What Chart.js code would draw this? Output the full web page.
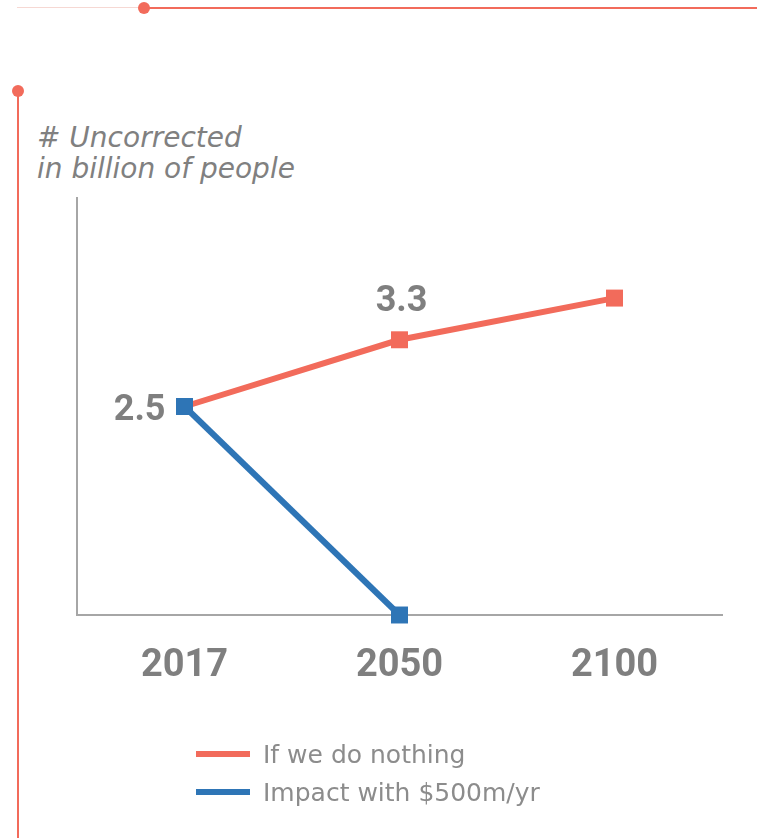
<!DOCTYPE html>
<html>
<head>
<meta charset="utf-8">
<script src="https://cdn.jsdelivr.net/npm/chart.js@4.4.1/dist/chart.umd.min.js"></script>
<style>
  html, body { margin: 0; padding: 0; background: #fff; }
  body { width: 757px; height: 838px; position: relative; overflow: hidden; }
  #wrap { position: absolute; left: 0; top: 0; width: 757px; height: 838px; }
  .deco { position: absolute; }
  .title {
    position: absolute; left: 37px; top: 122px;
    font-family: "DejaVu Sans", sans-serif; font-style: italic;
    font-size: 28px; line-height: 31px; color: #808080;
  }
  .legend { position: absolute; left: 196px; top: 735px; font-family: "DejaVu Sans", sans-serif; }
  .legend .item { display: flex; align-items: center; height: 38px; font-size: 25px; color: #8c8c8c; }
  .legend .swatch { width: 54px; height: 6px; margin-right: 13px; }
</style>
</head>
<body>
<div class="deco" style="left:17px;top:7px;width:128px;height:1px;background:#f6d8d3"></div>
<div class="deco" style="left:145px;top:7px;width:612px;height:2px;background:#f26b5b"></div>
<div class="deco" style="left:138px;top:2px;width:12px;height:12px;border-radius:50%;background:#f26b5b"></div>
<div class="deco" style="left:17px;top:91px;width:2px;height:747px;background:#f26b5b"></div>
<div class="deco" style="left:12px;top:85px;width:12px;height:12px;border-radius:50%;background:#f26b5b"></div>

<div class="title"># Uncorrected<br>in billion of people</div>

<div id="wrap"><canvas id="chart"></canvas></div>
<div class="legend" id="legend"></div>

<script>
'use strict';

// データ
const years = ['2017', '2050', '2100'];
const doNothing = [2.5, 3.3, 3.8];
const withFunding = [2.5, 0, null];
const seriesNames = ['If we do nothing', 'Impact with $500m/yr'];
const yRange = [0, 5];

// 値ラベルを付ける点 [dataset, index]
const labelled = [[1, 0], [0, 1]];

const red = '#f26b5b';
const blue = '#2e75b6';
const grey = '#7f7f7f';

const valueLabels = {
    id: 'valueLabels',
    afterDatasetsDraw(chart) {
        const ctx = chart.ctx;
        ctx.save();
        ctx.font = 'bold 36px Roboto';
        ctx.fillStyle = grey;
        ctx.textBaseline = 'middle';
        labelled.forEach(([d, i]) => {
            const pt = chart.getDatasetMeta(d).data[i];
            const v = chart.data.datasets[d].data[i];
            if (d === 1) {
                //左側
                ctx.textAlign = 'right';
                ctx.fillText(v.toFixed(1), pt.x - 19, pt.y + 4);
            } else {
                //上側
                ctx.textAlign = 'center';
                ctx.fillText(v.toFixed(1), pt.x + 2, pt.y - 38);
            }
        });
        ctx.restore();
    }
};

const ctx = document.getElementById('chart');
const chart = new Chart(ctx, {
    type: 'line',
    data: {
        labels: years,
        datasets: [
            {
                label: seriesNames[0],
                data: doNothing,
                borderColor: red,
                backgroundColor: red,
                borderWidth: 6,
                pointStyle: 'rect',
                pointRadius: 12,
                pointBorderWidth: 0,
                pointBackgroundColor: red,
                clip: false,
                order: 1
            },
            {
                label: seriesNames[1],
                data: withFunding,
                borderColor: blue,
                backgroundColor: blue,
                borderWidth: 6,
                pointStyle: 'rect',
                pointRadius: 12,
                pointBorderWidth: 0,
                pointBackgroundColor: blue,
                clip: false,
                order: 0
            }
        ]
    },
    options: {
        responsive: true,
        maintainAspectRatio: false,
        animation: false,
        layout: { padding: { left: 77, right: 35, top: 198, bottom: 143 } },
        plugins: {
            legend: { display: false },
            tooltip: { enabled: false }
        },
        scales: {
            x: {
                offset: true,
                grid: { display: false, drawTicks: false },
                border: { display: true, color: '#a6a6a6', width: 2 },
                ticks: {
                    color: grey,
                    font: { family: 'Roboto', weight: 'bold', size: 38 },
                    padding: 29
                },
                afterFit: s => { s.height = 80; }
            },
            y: {
                min: yRange[0],
                max: yRange[1],
                grid: { display: false, drawTicks: false },
                border: { display: true, color: '#a6a6a6', width: 2 },
                ticks: { display: false },
                afterFit: s => { s.width = 0; }
            }
        }
    },
    plugins: [valueLabels]
});

// 凡例
const legend = document.getElementById('legend');
chart.data.datasets.forEach(ds => {
    const item = document.createElement('div');
    item.className = 'item';
    item.innerHTML = '<span class="swatch" style="background:' + ds.borderColor + '"></span>' + ds.label;
    legend.appendChild(item);
});
</script>
</body>
</html>
